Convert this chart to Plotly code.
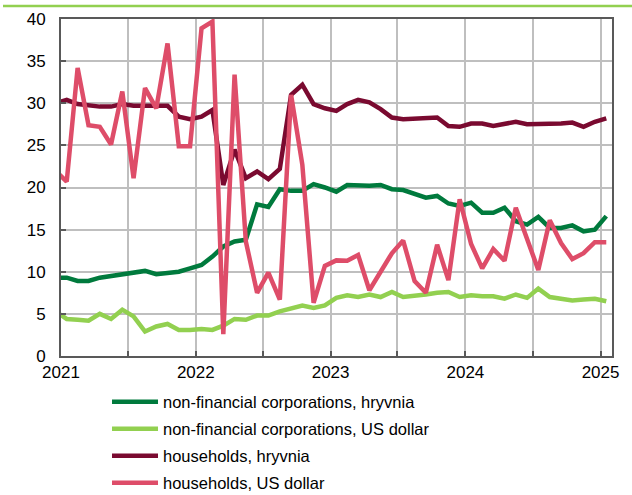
import pandas as pd
import plotly.graph_objects as go

# Monthly observations, Dec 2020 .. Jan 2025 (Dec 2020 lies just left of the visible axis)
months = pd.date_range("2020-12-01", "2025-01-01", freq="MS").strftime("%Y-%m").tolist()

nfc_uah = [9.3, 9.3, 8.9, 8.9, 9.3, 9.5, 9.7, 9.9, 10.1, 9.7, 9.9, 10.0, 10.4,
           10.8, 11.8, 13.0, 13.6, 13.8, 18.0, 17.7, 19.8, 19.6, 19.6, 20.4, 20.0,
           19.5, 20.3, 20.2, 20.2, 20.3, 19.8, 19.7, 19.3, 18.8, 19.0, 18.1, 17.8,
           18.2, 17.0, 17.0, 17.6, 16.0, 15.6, 16.5, 15.2, 15.2, 15.5, 14.8, 15.0, 16.6]

nfc_usd = [5.3, 4.4, 4.3, 4.2, 5.0, 4.4, 5.5, 4.7, 2.9, 3.5, 3.8, 3.1, 3.1,
           3.2, 3.1, 3.6, 4.4, 4.3, 4.8, 4.8, 5.3, 5.7, 6.0, 5.7, 6.0,
           6.9, 7.2, 7.0, 7.3, 7.0, 7.6, 7.0, 7.1, 7.3, 7.5, 7.6, 7.0,
           7.2, 7.1, 7.1, 6.8, 7.3, 6.9, 8.0, 7.0, 6.8, 6.6, 6.7, 6.8, 6.5]

hh_uah = [30.0, 30.4, 29.9, 29.7, 29.6, 29.6, 29.9, 29.7, 29.7, 29.7, 29.7, 28.4, 28.1,
          28.4, 29.2, 20.3, 24.5, 21.1, 21.9, 21.0, 22.2, 31.0, 32.2, 29.9, 29.4,
          29.1, 29.9, 30.4, 30.1, 29.3, 28.3, 28.1, 28.2, 28.2, 28.3, 27.3, 27.2,
          27.6, 27.6, 27.3, 27.5, 27.8, 27.5, 27.5, 27.55, 27.6, 27.7, 27.2, 27.8, 28.2]

hh_usd = [22.0, 20.7, 34.2, 27.4, 27.2, 25.1, 31.4, 21.1, 31.8, 29.4, 37.1, 24.9, 24.9,
          38.9, 39.7, 2.6, 33.4, 13.6, 7.5, 9.9, 6.7, 31.0, 22.7, 6.3, 10.7,
          11.35, 11.3, 12.0, 7.8, 10.0, 12.2, 13.7, 8.9, 7.5, 13.2, 9.0, 18.6,
          13.3, 10.4, 12.7, 11.3, 17.6, 13.7, 10.2, 16.1, 13.4, 11.5, 12.2, 13.5, 13.5]

series_names = ["non-financial corporations, hryvnia",
                "non-financial corporations, US dollar",
                "households, hryvnia",
                "households, US dollar"]
series_colors = ["#007A3D", "#92D050", "#7A0A30", "#DE4D69"]

tick_dates = pd.date_range("2021-01-01", "2025-01-01", freq="6MS").strftime("%Y-%m-%d").tolist()
tick_text = [d[:4] if d[5:7] == "01" else "" for d in tick_dates]

FONT = "Liberation Sans, Arial, sans-serif"

fig = go.Figure()
for i, (name, vals, col) in enumerate(zip(series_names, [nfc_uah, nfc_usd, hh_uah, hh_usd], series_colors)):
    fig.add_trace(go.Scatter(
        x=months, y=vals, name=name, mode="lines", legendgroup=f"g{i}",
        xperiod="M1", xperiodalignment="middle",
        line=dict(color=col, width=4.5),
    ))

fig.update_layout(
    width=632, height=495,
    margin=dict(l=61, r=20, t=19, b=139, autoexpand=False),
    paper_bgcolor="white", plot_bgcolor="white",
    font=dict(family=FONT, size=17, color="#000000"),
    showlegend=True,
    legend=dict(
        x=0.0835, y=-0.085, xanchor="left", yanchor="top",
        font=dict(family=FONT, size=16.5, color="#000000"),
        bgcolor="rgba(0,0,0,0)", itemwidth=46, tracegroupgap=2.5,
    ),
    xaxis=dict(
        type="date", range=["2021-01-01", "2025-02-01"],
        tickmode="array", tickvals=tick_dates, ticktext=tick_text,
        ticks="inside", ticklen=5, tickwidth=1.5, tickcolor="#595959",
        showgrid=True, gridcolor="#BFBFBF", gridwidth=1.5,
        showline=True, linecolor="#595959", linewidth=2, mirror=True,
        tickfont=dict(size=17), zeroline=False, automargin=False,
    ),
    yaxis=dict(
        range=[0, 40], tickmode="linear", tick0=0, dtick=5,
        ticks="inside", ticklen=5, tickwidth=1.5, tickcolor="#595959",
        showgrid=True, gridcolor="#BFBFBF", gridwidth=1.5,
        showline=True, linecolor="#595959", linewidth=2, mirror=True,
        tickfont=dict(size=17), zeroline=False, ticklabelstandoff=10, automargin=False,
    ),
    shapes=[dict(type="line", xref="paper", yref="paper",
                 x0=(3 - 61) / 551, x1=(632 - 61) / 551,
                 y0=(356 - 6) / 337, y1=(356 - 6) / 337,
                 line=dict(color="#92D050", width=2.5))],
)

fig.write_html("out.html", config={"displayModeBar": False},
               post_script="document.body.style.margin='0';")
